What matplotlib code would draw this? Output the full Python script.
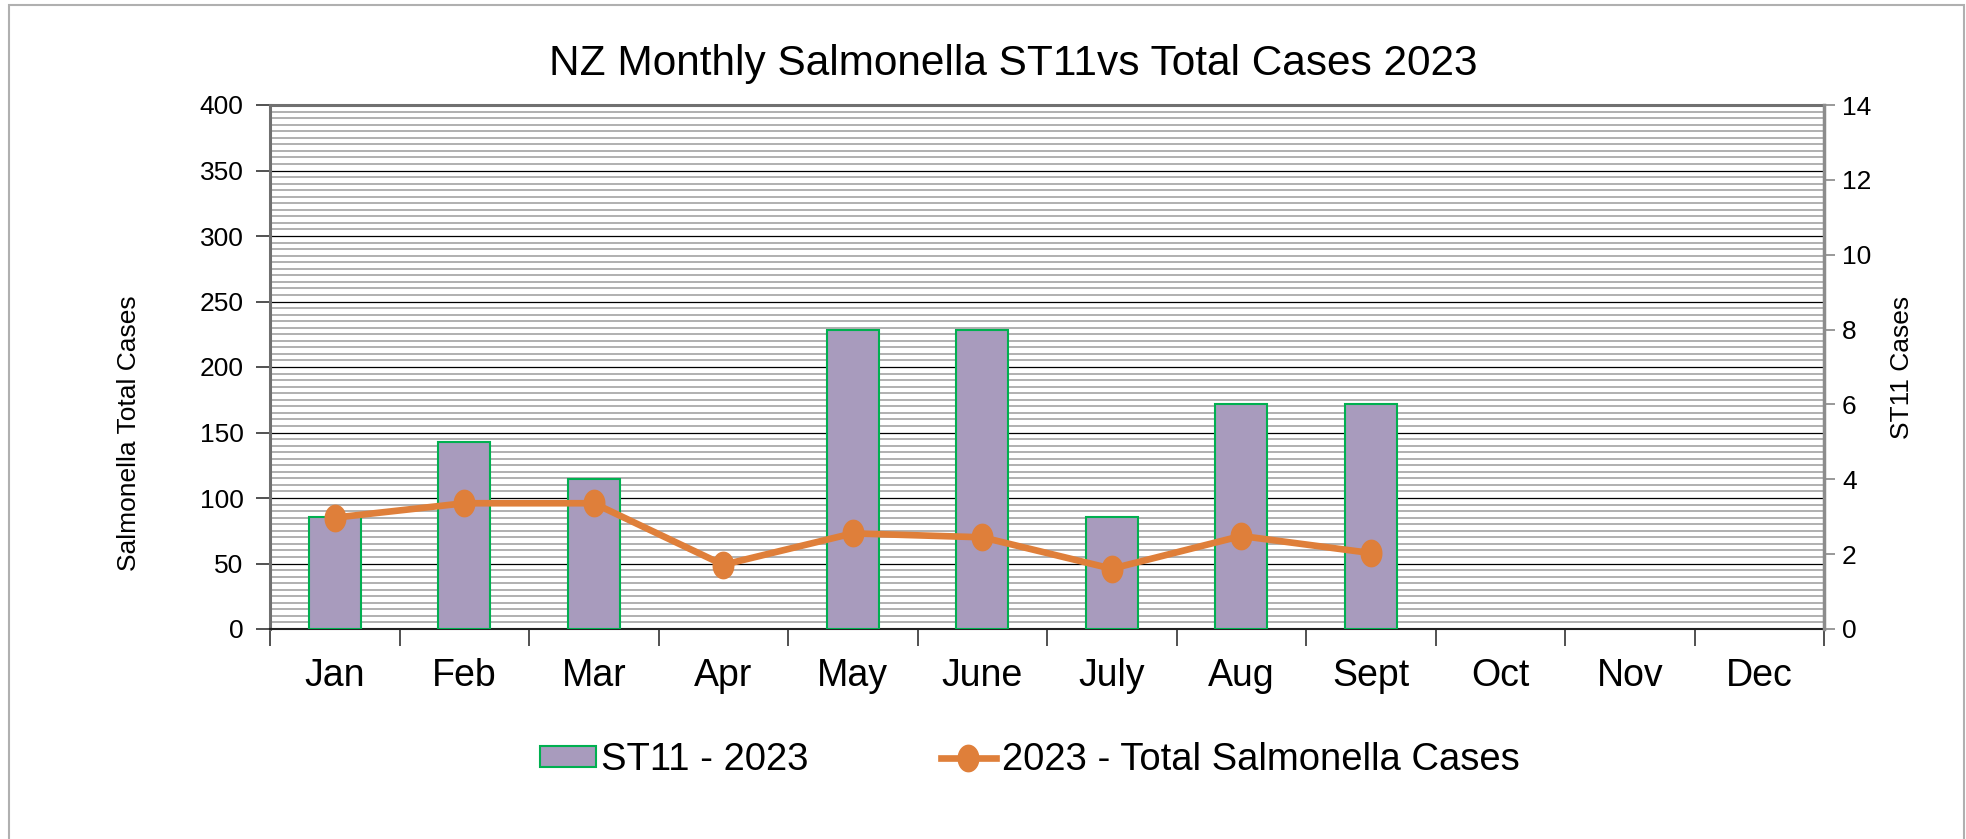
import numpy as np
import matplotlib.pyplot as plt
from matplotlib.patches import Rectangle, Patch
from matplotlib.lines import Line2D
from matplotlib.path import Path

plt.rcParams['font.family'] = ['Liberation Sans', 'DejaVu Sans']

months = ['Jan', 'Feb', 'Mar', 'Apr', 'May', 'June', 'July', 'Aug', 'Sept',
          'Oct', 'Nov', 'Dec']
st11_2023 = [3, 5, 4, 0, 8, 8, 3, 6, 6]
total_2023 = [85, 96, 96, 49, 73, 70, 46, 71, 58]

BAR_COLOR = '#a89bbd'
BAR_EDGE = '#00b050'
LINE_COLOR = '#df7f3a'

# slightly tall ellipse marker, like the original (squeezed) chart
t = np.linspace(0, 2 * np.pi, 60)
ellipse = Path(np.column_stack([0.78 * np.cos(t), np.sin(t)]), closed=True)

fig = plt.figure(figsize=(19.66, 8.39), dpi=100)
W, H = 1966, 839

# outer chart frame
fig.patches.append(Rectangle((9 / W, -0.05), (1964 - 9) / W, 1.05 - 5 / H,
                             transform=fig.transFigure, fill=False,
                             edgecolor='#b0b0b0', lw=1.5))

left, right, bottom, top = 270 / W, 1824 / W, 1 - 629 / H, 1 - 105 / H
ax = fig.add_axes([left, bottom, right - left, top - bottom])
ax2 = ax.twinx()   # ST11 bars, right axis
ax3 = ax.twinx()   # total cases line, left scale, drawn on top

x = np.arange(len(months))

# background grid on the left scale
ax.set_ylim(0, 400)
ax.set_yticks(np.arange(0, 401, 50))
ax.set_yticks(np.arange(0, 401, 5), minor=True)
ax.grid(which='minor', axis='y', color='#b0b0b0', lw=1.4)
ax.grid(which='major', axis='y', color='black', lw=0.9)
ax.set_axisbelow(True)

# bars
bx = [i for i, v in enumerate(st11_2023) if v > 0]
bv = [v for v in st11_2023 if v > 0]
ax2.bar(bx, bv, width=0.4, color=BAR_COLOR, edgecolor=BAR_EDGE, lw=1.5, zorder=3)
ax2.set_ylim(0, 14)
ax2.set_yticks(np.arange(0, 15, 2))

# line
ax3.plot(x[:len(total_2023)], total_2023, color=LINE_COLOR, lw=4.8,
         marker=ellipse, markersize=19, zorder=5)
ax3.set_ylim(0, 400)
ax3.axis('off')

for a in (ax, ax2, ax3):
    a.set_xlim(-0.5, len(months) - 0.5)

# x axis: ticks between categories, labels at centres
ax.set_xticks(np.arange(-0.5, len(months), 1))
ax.set_xticklabels([])
ax.set_xticks(x, minor=True)
ax.set_xticklabels(months, minor=True, fontsize=27)
ax.tick_params(axis='x', which='major', length=12, width=1.2, color='#333333')
ax.tick_params(axis='x', which='minor', length=0, pad=21)

ax.tick_params(axis='y', which='major', length=10, width=1.2, color='#333333',
               labelsize=19, pad=9)
ax.tick_params(axis='y', which='minor', length=0)
ax2.tick_params(axis='y', length=8, width=1.2, color='#888888',
                labelsize=19, pad=5)

for s in ('left', 'top'):
    ax.spines[s].set_color('#707070')
    ax.spines[s].set_linewidth(2.2)
ax.spines['bottom'].set_color('#222222')
ax.spines['bottom'].set_linewidth(1.5)
ax2.spines['right'].set_color('#8c8c8c')
ax2.spines['right'].set_linewidth(2.5)
for s in ('left', 'top', 'bottom'):
    ax2.spines[s].set_visible(False)
ax.spines['right'].set_visible(False)

ax.set_ylabel('Salmonella Total Cases', fontsize=19)
ax.yaxis.label.set_va('center')
ax.yaxis.set_label_coords((129 - 270) / 1554, 0.373)
ax2.set_ylabel('ST11 Cases', fontsize=19)
ax2.yaxis.label.set_va('center')
ax2.yaxis.set_label_coords((1902 - 270) / 1554, 0.5)

fig.text(1013 / W, 1 - 64 / H, 'NZ Monthly Salmonella ST11vs Total Cases 2023',
         fontsize=30.5, ha='center', va='center')

handles = [
    Patch(facecolor=BAR_COLOR, edgecolor=BAR_EDGE, lw=1.5, label='ST11 - 2023'),
    Line2D([0], [0], color=LINE_COLOR, lw=4.8, marker=ellipse, markersize=19,
           label='2023 - Total Salmonella Cases'),
]
fig.legend(handles=handles, loc='center', bbox_to_anchor=(1030 / W, 1 - 760 / H),
           ncol=2, frameon=False, fontsize=27.5, handlelength=1.45,
           handleheight=0.5, handletextpad=0.15, columnspacing=3.45)

fig.savefig('out.png', dpi=100)
